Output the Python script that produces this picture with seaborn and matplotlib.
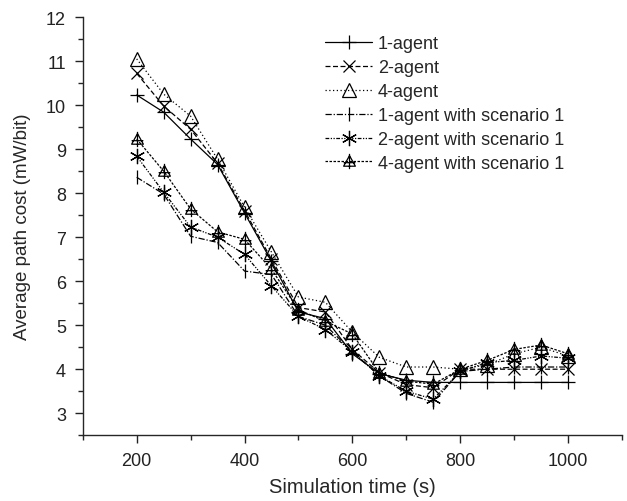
import numpy as np
import pandas as pd
import seaborn as sns
import matplotlib.pyplot as plt
from matplotlib.path import Path
from matplotlib.ticker import MultipleLocator

# Datos
sim_time = [200, 250, 300, 350, 400, 450, 500, 550, 600, 650, 700, 750, 800, 850, 900, 950, 1000]

agent1 = [10.23, 9.84, 9.23, 8.65, 7.55, 6.45, 5.30, 5.15, 4.35, 3.90, 3.75, 3.70, 3.70, 3.70, 3.70, 3.70, 3.70]
agent2 = [10.72, 9.98, 9.45, 8.68, 7.60, 6.50, 5.40, 5.30, 4.45, 3.92, 3.65, 3.58, 4.00, 4.00, 4.00, 4.00, 4.00]
agent4 = [11.05, 10.25, 9.75, 8.77, 7.68, 6.66, 5.64, 5.52, 4.84, 4.27, 4.05, 4.05, 4.00, 4.10, 4.35, 4.50, 4.30]
agent1_s1 = [8.36, 7.98, 7.02, 6.88, 6.23, 6.15, 5.20, 5.00, 4.40, 3.85, 3.45, 3.25, 3.95, 4.00, 4.05, 4.05, 4.05]
agent2_s1 = [8.84, 8.02, 7.23, 7.00, 6.61, 5.89, 5.20, 4.90, 4.40, 3.85, 3.50, 3.32, 3.95, 4.15, 4.20, 4.30, 4.25]
agent4_s1 = [9.23, 8.50, 7.64, 7.12, 6.95, 6.27, 5.35, 5.09, 4.80, 3.92, 3.73, 3.66, 4.00, 4.20, 4.45, 4.55, 4.35]

labels = ["1-agent", "2-agent", "4-agent",
          "1-agent with scenario 1", "2-agent with scenario 1", "4-agent with scenario 1"]
series = [agent1, agent2, agent4, agent1_s1, agent2_s1, agent4_s1]

# Marcador triangulo con cruz
tri_plus = Path(
    [(-1, -0.8), (1, -0.8), (0, 1), (-1, -0.8), (0, 1.3), (0, -1.3), (-1, -0.2), (1, -0.2)],
    [Path.MOVETO, Path.LINETO, Path.LINETO, Path.CLOSEPOLY,
     Path.MOVETO, Path.LINETO, Path.MOVETO, Path.LINETO])

styles = [
    dict(linestyle="-", marker="+", markersize=10),
    dict(linestyle=(0, (4, 2)), marker="x", markersize=8),
    dict(linestyle=(0, (1, 2)), marker="^", markersize=10),
    dict(linestyle=(0, (5, 1.5, 1, 1.5)), marker="|", markersize=10),
    dict(linestyle=(0, (3, 1.2, 1, 1.2, 1, 1.2)), marker=(6, 2, 0), markersize=11),
    dict(linestyle=(0, (2, 1.2)), marker=tri_plus, markersize=11),
]

sns.set_style("ticks")
plt.rcParams["font.family"] = ["Liberation Sans", "DejaVu Sans"]

fig, ax = plt.subplots(figsize=(6.27, 5.02), dpi=100)
fig.subplots_adjust(left=0.132, right=0.992, top=0.964, bottom=0.131)

for lab, vals, st in zip(labels, series, styles):
    df = pd.DataFrame({"time": sim_time, "cost": vals})
    sns.lineplot(data=df, x="time", y="cost", ax=ax, label=lab, color="black",
                 linewidth=0.9, markerfacecolor="none", markeredgecolor="black",
                 markeredgewidth=0.9, **st)

ax.set_xlim(100, 1100)
ax.set_ylim(2.5, 12)
ax.xaxis.set_major_locator(MultipleLocator(200))
ax.xaxis.set_minor_locator(MultipleLocator(100))
ax.yaxis.set_major_locator(MultipleLocator(1))
ax.yaxis.set_minor_locator(MultipleLocator(0.5))
ax.tick_params(which="major", direction="out", length=6, width=1, labelsize=13,
               colors="#222222", pad=6)
ax.tick_params(which="minor", direction="out", length=3.5, width=1)
sns.despine(ax=ax)
for s in ["left", "bottom"]:
    ax.spines[s].set_linewidth(1)

ax.set_xlabel("Simulation time (s)", fontsize=14.5, labelpad=6)
ax.set_ylabel("Average path cost (mW/bit)", fontsize=13.5, labelpad=11)

ax.legend(loc="upper left", bbox_to_anchor=(0.42, 0.995), frameon=False, fontsize=13,
          handlelength=2.6, labelspacing=0.38, handletextpad=0.3)

fig.savefig("out.png", dpi=100)
